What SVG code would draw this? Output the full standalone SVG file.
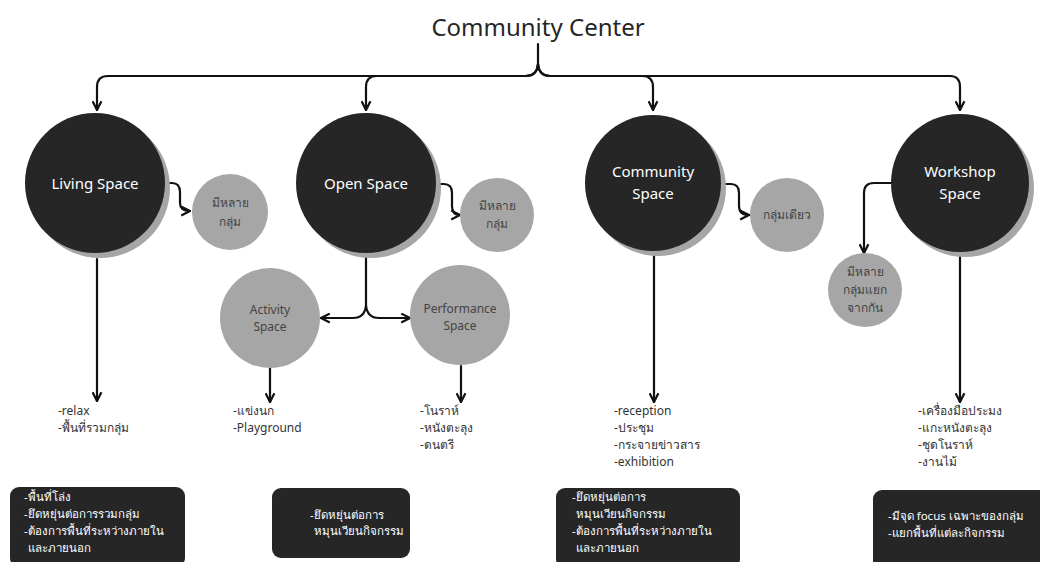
<svg xmlns="http://www.w3.org/2000/svg" width="1040" height="562" viewBox="0 0 1040 562">
<style>
.dark{fill:#262626}
.shadow{fill:#a6a6a6}
.gray{fill:#a6a6a6}
.conn{fill:none;stroke:#111;stroke-width:2.2;stroke-linecap:round;stroke-linejoin:round}
text{font-family:"Noto Sans","DejaVu Sans",sans-serif}
.title{font-size:24px;fill:#262626;text-anchor:middle}
.big{font-size:15px;fill:#fff;text-anchor:middle}
.small{font-size:12px;fill:#444;text-anchor:middle}
.list{font-size:12px;fill:#333}
.box{font-size:11.5px;fill:#fff}
</style>
<defs>
<marker id="arr" viewBox="0 0 10 10" refX="9" refY="5" markerWidth="5" markerHeight="5" orient="auto" markerUnits="strokeWidth">
<path d="M1,1 L9,5 L1,9" fill="none" stroke="#111" stroke-width="2"/>
</marker>
</defs>
<rect width="1040" height="562" fill="#fff"/>
<text class="title" x="538" y="36">Community Center</text>

<g id="connectors">
<path class="conn" marker-end="url(#arr)" d="M538,44 V64 Q537,76 526,76 H108 Q97,76 97,87 V110"/>
<path class="conn" marker-end="url(#arr)" d="M538,64 Q537,76 526,76 H377 Q366,76 366,87 V110"/>
<path class="conn" marker-end="url(#arr)" d="M538,64 Q539,76 550,76 H642 Q653,76 653,87 V110"/>
<path class="conn" marker-end="url(#arr)" d="M538,64 Q539,76 550,76 H950 Q960,76 960,87 V110"/>
<path class="conn" marker-end="url(#arr)" d="M165,183 H172 Q180,183 180,192 V203 Q180,211 190,211"/>
<path class="conn" marker-end="url(#arr)" d="M437,184 H444 Q452,184 452,193 V206 Q452,215 460,215"/>
<path class="conn" marker-end="url(#arr)" d="M724,184 H731 Q739,184 739,193 V206 Q739,215 749,215"/>
<path class="conn" marker-end="url(#arr)" d="M893,183 H874 Q864,183 864,193 V253"/>
<path class="conn" marker-end="url(#arr)" d="M97,259 V401"/>
<path class="conn" marker-end="url(#arr)" d="M366,253 V305 Q365,318 353,318 H321"/>
<path class="conn" marker-end="url(#arr)" d="M366,305 Q367,318 379,318 H410"/>
<path class="conn" marker-end="url(#arr)" d="M270,368 V402"/>
<path class="conn" marker-end="url(#arr)" d="M461,366 V402"/>
<path class="conn" marker-end="url(#arr)" d="M654,256 V402"/>
<path class="conn" marker-end="url(#arr)" d="M960,256 V402"/>
</g>

<g id="living-space">
<circle class="shadow" cx="100" cy="188" r="70"/>
<circle class="dark" cx="95" cy="183" r="70"/>
<text class="big" x="95" y="189">Living Space</text>
</g>
<g id="living-groups">
<circle class="gray" cx="230" cy="212" r="38"/>
<text class="small" x="230" y="207">มีหลาย</text>
<text class="small" x="230" y="226">กลุ่ม</text>
</g>
<g id="open-space">
<circle class="shadow" cx="371" cy="188" r="70"/>
<circle class="dark" cx="366" cy="183" r="70"/>
<text class="big" x="366" y="189">Open Space</text>
</g>
<g id="open-groups">
<circle class="gray" cx="497" cy="215" r="37"/>
<text class="small" x="497" y="210">มีหลาย</text>
<text class="small" x="497" y="228">กลุ่ม</text>
</g>
<g id="activity-space">
<circle class="gray" cx="270" cy="318" r="50"/>
<text class="small" x="270" y="314">Activity</text>
<text class="small" x="270" y="331">Space</text>
</g>
<g id="performance-space">
<circle class="gray" cx="460" cy="315" r="50"/>
<text class="small" x="460" y="313">Performance</text>
<text class="small" x="460" y="330">Space</text>
</g>
<g id="community-space">
<circle class="shadow" cx="658" cy="188" r="68"/>
<circle class="dark" cx="653" cy="183" r="68"/>
<text class="big" x="653" y="177">Community</text>
<text class="big" x="653" y="199">Space</text>
</g>
<g id="community-group">
<circle class="gray" cx="787" cy="215" r="37"/>
<text class="small" x="787" y="219">กลุ่มเดียว</text>
</g>
<g id="workshop-space">
<circle class="shadow" cx="965" cy="188" r="69"/>
<circle class="dark" cx="960" cy="183" r="69"/>
<text class="big" x="960" y="177">Workshop</text>
<text class="big" x="960" y="199">Space</text>
</g>
<g id="workshop-groups">
<circle class="gray" cx="865" cy="290" r="37"/>
<text class="small" x="865" y="276">มีหลาย</text>
<text class="small" x="865" y="294">กลุ่มแยก</text>
<text class="small" x="865" y="312">จากกัน</text>
</g>

<g id="living-list">
<text class="list" x="58" y="415">-relax</text>
<text class="list" x="58" y="432">-พื้นที่รวมกลุ่ม</text>
</g>
<g id="activity-list">
<text class="list" x="233" y="415">-แข่งนก</text>
<text class="list" x="233" y="432">-Playground</text>
</g>
<g id="performance-list">
<text class="list" x="420" y="415">-โนราห์</text>
<text class="list" x="420" y="432">-หนังตะลุง</text>
<text class="list" x="420" y="449">-ดนตรี</text>
</g>
<g id="community-list">
<text class="list" x="614" y="415">-reception</text>
<text class="list" x="614" y="432">-ประชุม</text>
<text class="list" x="614" y="449">-กระจายข่าวสาร</text>
<text class="list" x="614" y="466">-exhibition</text>
</g>
<g id="workshop-list">
<text class="list" x="918" y="415">-เครื่องมือประมง</text>
<text class="list" x="918" y="432">-แกะหนังตะลุง</text>
<text class="list" x="918" y="449">-ชุดโนราห์</text>
<text class="list" x="918" y="466">-งานไม้</text>
</g>

<g id="box-living">
<rect class="dark" x="10" y="487" width="175" height="80" rx="9"/>
<text class="box" x="24" y="501">-พื้นที่โล่ง</text>
<text class="box" x="24" y="518">-ยึดหยุ่นต่อการรวมกลุ่ม</text>
<text class="box" x="24" y="535">-ต้องการพื้นที่ระหว่างภายใน</text>
<text class="box" x="28" y="552">และภายนอก</text>
</g>
<g id="box-open">
<rect class="dark" x="272" y="488" width="138" height="70" rx="9"/>
<text class="box" x="310" y="519">-ยึดหยุ่นต่อการ</text>
<text class="box" x="314" y="535">หมุนเวียนกิจกรรม</text>
</g>
<g id="box-community">
<rect class="dark" x="556" y="488" width="184" height="80" rx="9"/>
<text class="box" x="572" y="501">-ยึดหยุ่นต่อการ</text>
<text class="box" x="576" y="518">หมุนเวียนกิจกรรม</text>
<text class="box" x="572" y="535">-ต้องการพื้นที่ระหว่างภายใน</text>
<text class="box" x="576" y="552">และภายนอก</text>
</g>
<g id="box-workshop">
<rect class="dark" x="873" y="490" width="175" height="80" rx="9"/>
<text class="box" x="888" y="520">-มีจุด focus เฉพาะของกลุ่ม</text>
<text class="box" x="888" y="537">-แยกพื้นที่แต่ละกิจกรรม</text>
</g>
</svg>
